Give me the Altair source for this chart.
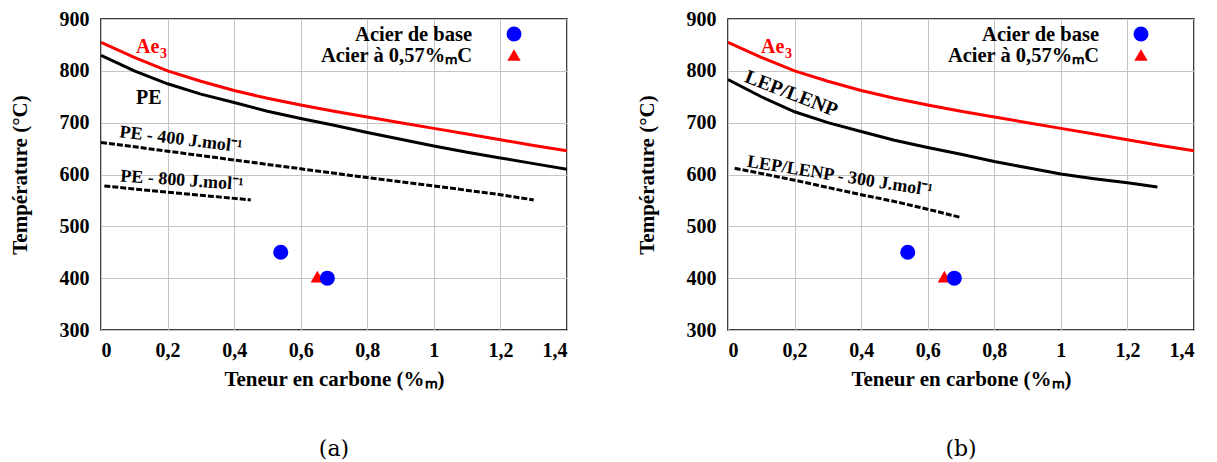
import altair as alt
import pandas as pd

# ---------------- data ----------------
X_AE3 = [0, 0.1, 0.2, 0.3, 0.4, 0.5, 0.6, 0.7, 0.8, 0.9, 1.0, 1.1, 1.2, 1.3, 1.4]
T_AE3 = [855, 826, 800, 780, 762, 747, 734, 722, 711, 700, 689, 678, 667, 656, 646]

X_PE = [0, 0.1, 0.2, 0.3, 0.4, 0.5, 0.6, 0.7, 0.8, 0.9, 1.0, 1.1, 1.2, 1.3, 1.4]
T_PE = [830, 800, 775, 755, 739, 722, 708, 695, 681, 668, 655, 643, 632, 621, 610]

X_PE400 = [0, 0.2, 0.4, 0.6, 0.8, 1.0, 1.2, 1.3]
T_PE400 = [662, 645, 628, 611, 594, 578, 561, 551]

X_PE800 = [0.01, 0.1, 0.2, 0.3, 0.45]
T_PE800 = [578, 572, 566, 560, 551]

X_LEP = [0, 0.1, 0.2, 0.3, 0.4, 0.5, 0.6, 0.7, 0.8, 0.9, 1.0, 1.1, 1.2, 1.29]
T_LEP = [783, 750, 721, 700, 683, 666, 652, 639, 625, 613, 601, 592, 584, 576]

X_LEP300 = [0.02, 0.1, 0.2, 0.3, 0.4, 0.5, 0.6, 0.7]
T_LEP300 = [612, 602, 589, 575, 561, 548, 533, 517]

BASE_X = [0.54, 0.68]
BASE_T = [450, 400]
C057_X = [0.65]
C057_T = [403]

X_TICKS = [0, 0.2, 0.4, 0.6, 0.8, 1.0, 1.2, 1.4]
Y_TICKS = [300, 400, 500, 600, 700, 800, 900]

LEG_BASE = "Acier de base"
LEG_C057 = "Acier à 0,57%ₘC"

FONT = "'Liberation Serif', 'Times New Roman', Times, 'Nimbus Roman', serif"
W, H = 466, 311


def X():
    return alt.X("x:Q", scale=alt.Scale(domain=[0, 1.4], nice=False, zero=False),
                 axis=alt.Axis(values=X_TICKS,
                               labelExpr="replace(format(datum.value, '~g'), '.', ',')",
                               title="Teneur en carbone (%ₘ)", labelPadding=10,
                               titlePadding=8))


def Y():
    return alt.Y("T:Q", scale=alt.Scale(domain=[300, 900], nice=False, zero=False),
                 axis=alt.Axis(values=Y_TICKS, title="Température (°C)",
                               labelPadding=12, titlePadding=29))


def line(xs, ts, color, width, dash=None):
    df = pd.DataFrame({"x": xs, "T": ts})
    kw = dict(color=color, strokeWidth=width, clip=True)
    if dash:
        kw["strokeDash"] = dash
    return alt.Chart(df).mark_line(**kw).encode(x=X(), y=Y(), order="x:Q")


def pts(xs, ts, shape, color, size):
    df = pd.DataFrame({"x": xs, "T": ts})
    return alt.Chart(df).mark_point(shape=shape, filled=True, opacity=1, color=color,
                                    size=size, strokeWidth=0).encode(x=X(), y=Y())


ONE = pd.DataFrame({"k": [0]})


def label(x, t, txt, color="black", size=19, align="left", angle=0, baseline="alphabetic",
          dx=0, dy=0):
    df = pd.DataFrame({"x": [x], "T": [t], "txt": [txt]})
    kw = dict(font=FONT, fontWeight="bold", fontSize=size, color=color, align=align,
              baseline=baseline, dx=dx, dy=dy)
    if angle:
        kw["angle"] = angle
    return alt.Chart(df).mark_text(**kw).encode(x=X(), y=Y(), text="txt:N")


def ptext(px, py, txt, size=20.5, align="right"):
    return alt.Chart(ONE).mark_text(font=FONT, fontWeight="bold", fontSize=size,
                                    color="black", align=align,
                                    baseline="alphabetic").encode(
        x=alt.value(px), y=alt.value(py), text=alt.value(txt))


def psym(px, py, shape, color, size):
    return alt.Chart(ONE).mark_point(shape=shape, filled=True, opacity=1, color=color,
                                     size=size, strokeWidth=0).encode(
        x=alt.value(px), y=alt.value(py))


def legend():
    return [
        ptext(371, 21.5, LEG_BASE),
        psym(413, 15, "circle", "#0000ff", 225),
        ptext(371, 43, LEG_C057),
        psym(413, 36, "triangle-up", "#ff0000", 180),
    ]


def ae3_label(x0):
    return [
        label(x0, 835, "Ae", color="#ff0000", size=20),
        label(x0, 835, "3", color="#ff0000", size=14, dx=24, dy=5),
    ]


def caption(txt):
    return alt.TitleParams(txt, orient="bottom", font="DejaVu Serif", fontSize=22,
                           fontWeight="normal", color="black", offset=50,
                           anchor="middle")


DASH = [6, 2]

panel_a = alt.layer(
    line(X_AE3, T_AE3, "#ff0000", 3),
    line(X_PE, T_PE, "black", 3),
    line(X_PE400, T_PE400, "black", 3, DASH),
    line(X_PE800, T_PE800, "black", 3, DASH),
    pts(C057_X, C057_T, "triangle-up", "#ff0000", 180),
    pts(BASE_X, BASE_T, "circle", "#0000ff", 225),
    *ae3_label(0.105),
    label(0.105, 736, "PE", size=20),
    label(0.24, 667, "PE - 400 J.mol⁻¹", size=18, align="center", angle=7,
          baseline="middle"),
    label(0.243, 588, "PE - 800 J.mol⁻¹", size=18, align="center", angle=4,
          baseline="middle"),
    *legend(),
).properties(width=W, height=H, title=caption("(a)"))

panel_b = alt.layer(
    line(X_AE3, T_AE3, "#ff0000", 3),
    line(X_LEP, T_LEP, "black", 3),
    line(X_LEP300, T_LEP300, "black", 3, DASH),
    pts(C057_X, C057_T, "triangle-up", "#ff0000", 180),
    pts(BASE_X, BASE_T, "circle", "#0000ff", 225),
    *ae3_label(0.099),
    label(0.19, 756, "LEP/LENP", size=20, align="center", angle=21, baseline="middle"),
    label(0.336, 596, "LEP/LENP - 300 J.mol⁻¹", size=18, align="center", angle=9,
          baseline="middle"),
    *legend(),
).properties(width=W, height=H, title=caption("(b)"))

chart = alt.hconcat(panel_a, panel_b, spacing=67).configure_axis(
    labelFont=FONT, labelFontWeight="bold", labelFontSize=20, labelColor="black",
    titleFont=FONT, titleFontWeight="bold", titleFontSize=21, titleColor="black",
    gridColor="#c4c4c4", gridWidth=1, grid=True, ticks=False, domain=False,
).configure_view(stroke="black", strokeWidth=1.5).properties(
    background="white", padding={"left": 0, "top": 0, "right": 5, "bottom": 5})

chart.save("out.html", embed_options={"renderer": "svg", "actions": False})
